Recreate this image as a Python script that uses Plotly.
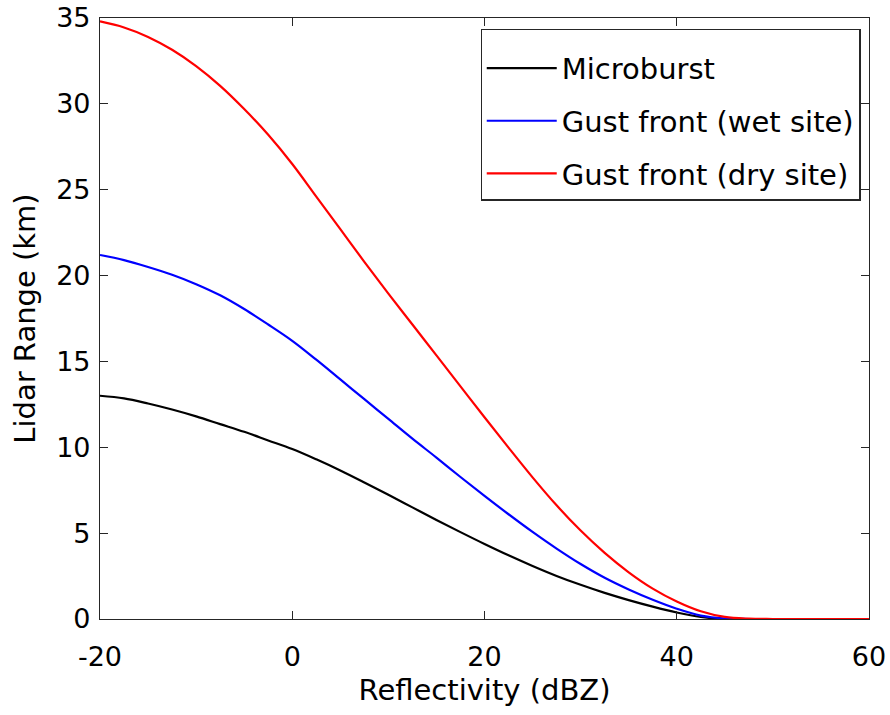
import plotly.graph_objects as go

reflectivity = [-20, -17.5, -15, -12.5, -10, -7.5, -5, -2.5, 0, 2.5, 5, 7.5, 10, 12.5, 15,
                17.5, 20, 22.5, 25, 27.5, 30, 32.5, 35, 37.5, 40, 42.5, 45, 47.5, 50, 55, 60]
microburst = [13.0, 12.85, 12.55, 12.2, 11.8, 11.35, 10.9, 10.4, 9.9, 9.3, 8.65, 7.95, 7.23, 6.5, 5.77,
              5.06, 4.37, 3.71, 3.09, 2.51, 1.99, 1.52, 1.1, 0.72, 0.38, 0.12, 0.0, 0.0, 0.0, 0.0, 0.0]
gust_wet = [21.2, 20.9, 20.5, 20.05, 19.5, 18.85, 18.05, 17.15, 16.2, 15.1, 13.95, 12.8, 11.65, 10.5, 9.4,
            8.27, 7.17, 6.1, 5.07, 4.1, 3.2, 2.4, 1.72, 1.12, 0.6, 0.2, 0.03, 0.0, 0.0, 0.0, 0.0]
gust_dry = [34.8, 34.45, 33.9, 33.15, 32.2, 31.05, 29.7, 28.2, 26.5, 24.6, 22.7, 20.8, 18.95, 17.15, 15.35,
            13.55, 11.75, 9.98, 8.25, 6.62, 5.15, 3.85, 2.72, 1.77, 1.02, 0.45, 0.12, 0.02, 0.0, 0.0, 0.0]

x_ticks = [-20, 0, 20, 40, 60]
x_tick_labels = ["-20", "0", "20", "40", "60"]
y_ticks = [0, 5, 10, 15, 20, 25, 30, 35]

series = [
    ("Microburst", microburst, "black"),
    ("Gust front (wet site)", gust_wet, "#0000ff"),
    ("Gust front (dry site)", gust_dry, "#ff0000"),
]

FONT = "DejaVu Sans"

fig = go.Figure()
for i, (name, vals, col) in enumerate(series):
    fig.add_trace(go.Scatter(
        x=reflectivity, y=vals, mode="lines", name=name,
        line=dict(color=col, width=2.2, shape="spline", smoothing=1.0),
        legendgroup=f"g{i}",
    ))

axis_common = dict(
    showline=True, linecolor="#262626", linewidth=1.2, mirror="ticks",
    ticks="inside", ticklen=8, tickcolor="#262626", tickwidth=1.2,
    showgrid=False, zeroline=False, automargin=False,
    ticklabeloverflow="allow",
    tickfont=dict(family=FONT, size=27, color="black"),
)

fig.update_layout(
    width=890, height=715,
    margin=dict(l=100, r=21, t=18, b=96),
    plot_bgcolor="white", paper_bgcolor="white",
    font=dict(family=FONT, color="black"),
    xaxis=dict(range=[-20, 60], tickvals=x_ticks, ticktext=x_tick_labels,
               ticklabelstandoff=13,
               title=dict(text="Reflectivity (dBZ)", font=dict(family=FONT, size=29), standoff=9),
               **axis_common),
    yaxis=dict(range=[0, 35], tickvals=y_ticks, ticklabelstandoff=3,
               title=dict(text="Lidar Range (km)", font=dict(family=FONT, size=29), standoff=11),
               **axis_common),
    legend=dict(x=0.989, y=0.9825, xanchor="right", yanchor="top",
                bgcolor="white", bordercolor="#262626", borderwidth=1.2,
                font=dict(family=FONT, size=29, color="black"),
                title=dict(text=" ", font=dict(family=FONT, size=10)),
                tracegroupgap=12, itemwidth=70),
    showlegend=True,
)

# remove the browser's default 8px body margin so the figure fills the window exactly
fig.write_html("out.html", config={"displayModeBar": False},
               post_script="document.body.style.margin='0';")
